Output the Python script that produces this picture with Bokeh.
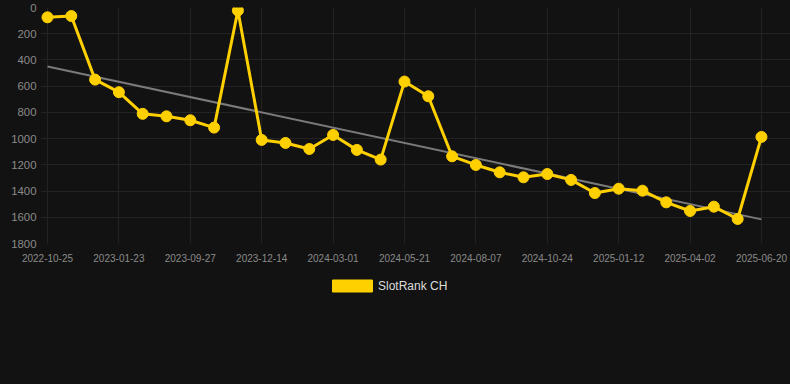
from bokeh.plotting import figure
from bokeh.layouts import column
from bokeh.models import Range1d, FixedTicker, Legend, LegendItem, ColumnDataSource
from bokeh.embed import file_html
from bokeh.resources import INLINE

# ---- data ----
ranks = [75, 65, 550, 646, 811, 830, 860, 916, 23, 1010,
         1033, 1079, 972, 1086, 1160, 565, 677, 1135, 1201, 1257,
         1295, 1270, 1315, 1415, 1382, 1397, 1486, 1552, 1519, 1613, 987]
tick_labels = ["2022-10-25", "2023-01-23", "2023-09-27", "2023-12-14",
               "2024-03-01", "2024-05-21", "2024-08-07", "2024-10-24",
               "2025-01-12", "2025-04-02", "2025-06-20"]
tick_step = 3
trend_values = [450, 1616]          # trend line at first and last point
y_ticks = [0, 200, 400, 600, 800, 1000, 1200, 1400, 1600, 1800]
series_name = "SlotRank CH"

BG = "#121212"
YELLOW = "#FFD000"
GRID = "#232323"
TXT = "#8a8a8a"
FONT = "Liberation Sans"

idx = list(range(len(ranks)))
tick_pos = idx[::tick_step]

p = figure(width=790, height=270, output_backend="svg", toolbar_location=None,
           x_range=Range1d(-0.294, 31.22), y_range=Range1d(1800, 0),
           background_fill_color=BG, border_fill_color=BG,
           min_border_top=7, min_border_left=40, min_border_right=0,
           min_border_bottom=27)
p.outline_line_color = None

# axes
p.xaxis.ticker = FixedTicker(ticks=tick_pos)
p.xaxis.major_label_overrides = {i: lab for i, lab in zip(tick_pos, tick_labels)}
p.yaxis.ticker = FixedTicker(ticks=y_ticks)
for ax in (p.xaxis, p.yaxis):
    ax.axis_line_color = None
    ax.major_tick_line_color = None
    ax.minor_tick_line_color = None
    ax.major_tick_out = 0
    ax.major_tick_in = 0
    ax.major_label_text_color = TXT
    ax.major_label_text_font = FONT
p.xaxis.major_label_text_font_size = "10px"
p.xaxis.major_label_standoff = 10
p.yaxis.major_label_text_font_size = "11.4px"
p.yaxis.major_label_standoff = 4

p.xgrid.ticker = FixedTicker(ticks=tick_pos)
p.ygrid.ticker = FixedTicker(ticks=y_ticks)
p.xgrid.grid_line_color = GRID
p.ygrid.grid_line_color = GRID

# trend line
p.line(x=[idx[0], idx[-1]], y=trend_values, line_color="#7a7a7a", line_width=2)

# series
src = ColumnDataSource(dict(x=idx, y=ranks))
p.line("x", "y", source=src, line_color=YELLOW, line_width=3)
p.scatter("x", "y", source=src, size=11, fill_color=YELLOW, line_color=YELLOW)

# ---- legend strip below the chart ----
leg = figure(width=790, height=114, output_backend="svg", toolbar_location=None,
             x_range=Range1d(0, 1), y_range=Range1d(0, 1),
             x_axis_type=None, y_axis_type=None,
             background_fill_color=BG, border_fill_color=BG,
             min_border=0)
leg.outline_line_color = None
leg.grid.visible = False
# swatch proxy (kept outside the visible range; only its style feeds the legend)
swatch = leg.quad(left=[2], right=[3], top=[3], bottom=[2],
                  fill_color=YELLOW, line_color=YELLOW)
legend = Legend(items=[LegendItem(label=series_name, renderers=[swatch])],
                location=(287, 91), orientation="horizontal",
                glyph_width=50, glyph_height=15, label_standoff=1,
                label_text_font=FONT, label_text_font_size="12px",
                label_text_color="#dddddd", background_fill_alpha=0,
                border_line_color=None, padding=6, margin=0)
leg.add_layout(legend, "center")

layout = column(p, leg, spacing=0)

html = file_html(layout, INLINE)
html = html.replace("</head>", "<style>html,body{background:#121212;}</style></head>", 1)
open("out.html", "w").write(html)
